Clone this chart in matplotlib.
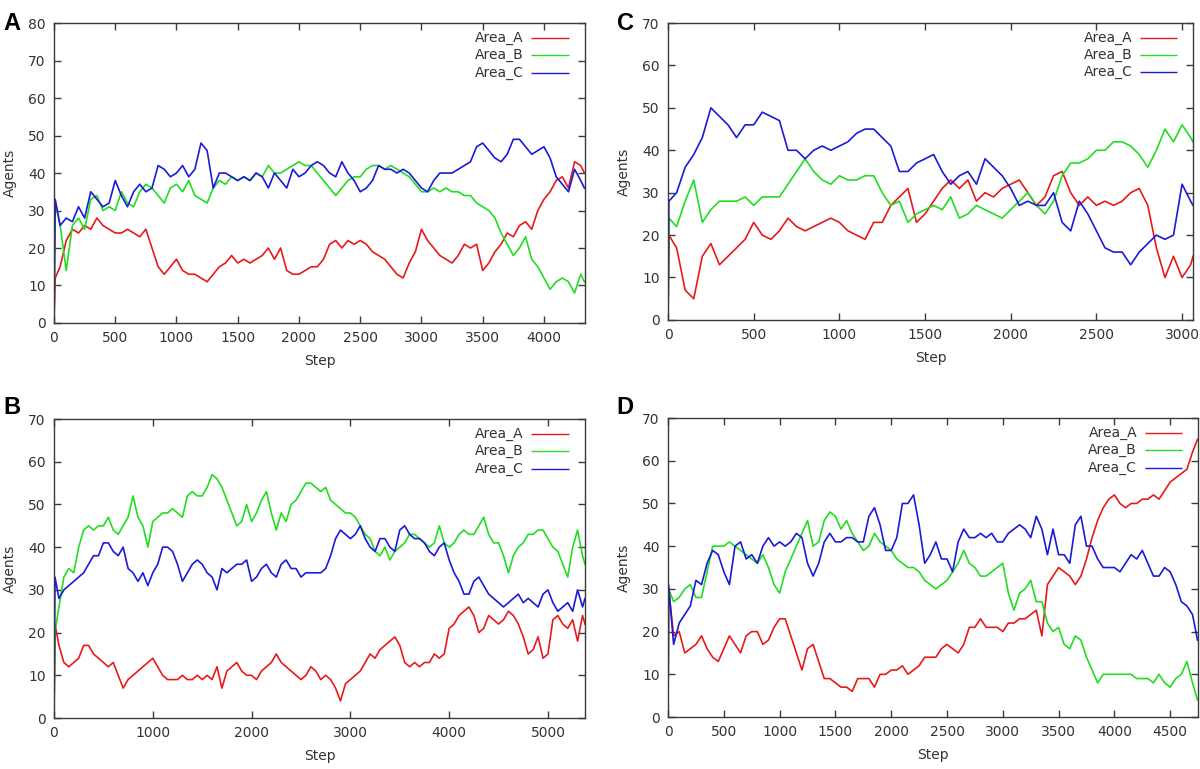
"""Agent counts per area over simulation steps, four runs (A-D).

Gnuplot-style panels: inward ticks on all four sides, legend text
right-aligned with a short line sample after it.

Output: out.png
"""
import matplotlib
matplotlib.use("Agg")
import matplotlib.pyplot as plt

RED = "#e8191a"
GREEN = "#22dd22"
BLUE = "#1a1ad8"
SPINE = "#3a3a3a"
TEXT = "#333333"

SERIES_NAMES = ["Area_A", "Area_B", "Area_C"]

# --- panel A -------------------------------------------------------------
A_STEPS = [0, 10] + list(range(50, 4301, 50)) + [4330]
A_AREA_A = [0, 12,
            15, 22, 25, 24, 26, 25, 28, 26, 25, 24,
            24, 25, 24, 23, 25, 20, 15, 13, 15, 17,
            14, 13, 13, 12, 11, 13, 15, 16, 18, 16,
            17, 16, 17, 18, 20, 17, 20, 14, 13, 13,
            14, 15, 15, 17, 21, 22, 20, 22, 21, 22,
            21, 19, 18, 17, 15, 13, 12, 16, 19, 25,
            22, 20, 18, 17, 16, 18, 21, 20, 21, 14,
            16, 19, 21, 24, 23, 26, 27, 25, 30, 33,
            35, 38, 39, 36, 43, 42,
            40]
A_AREA_B = [0, 32,
            26, 14, 26, 28, 25, 33, 34, 30, 31, 30,
            35, 32, 31, 35, 37, 36, 34, 32, 36, 37,
            35, 38, 34, 33, 32, 36, 38, 37, 39, 38,
            39, 38, 40, 39, 42, 40, 40, 41, 42, 43,
            42, 42, 40, 38, 36, 34, 36, 38, 39, 39,
            41, 42, 42, 41, 42, 41, 40, 39, 37, 35,
            35, 36, 35, 36, 35, 35, 34, 34, 32, 31,
            30, 28, 24, 21, 18, 20, 23, 17, 15, 12,
            9, 11, 12, 11, 8, 13,
            11]
A_AREA_C = [0, 33,
            26, 28, 27, 31, 28, 35, 33, 31, 32, 38,
            34, 31, 35, 37, 35, 36, 42, 41, 39, 40,
            42, 39, 41, 48, 46, 36, 40, 40, 39, 38,
            39, 38, 40, 39, 36, 40, 38, 36, 41, 39,
            40, 42, 43, 42, 40, 39, 43, 40, 38, 35,
            36, 38, 42, 41, 41, 40, 41, 40, 38, 36,
            35, 38, 40, 40, 40, 41, 42, 43, 47, 48,
            46, 44, 43, 45, 49, 49, 47, 45, 46, 47,
            44, 39, 37, 35, 41, 38,
            36]

# --- panel B -------------------------------------------------------------
B_STEPS = [0, 10] + list(range(50, 5351, 50)) + [5375]
B_AREA_A = [0, 22,
            17, 13, 12, 13, 14, 17, 17, 15, 14, 13,
            12, 13, 10, 7, 9, 10, 11, 12, 13, 14,
            12, 10, 9, 9, 9, 10, 9, 9, 10, 9,
            10, 9, 12, 7, 11, 12, 13, 11, 10, 10,
            9, 11, 12, 13, 15, 13, 12, 11, 10, 9,
            10, 12, 11, 9, 10, 9, 7, 4, 8, 9,
            10, 11, 13, 15, 14, 16, 17, 18, 19, 17,
            13, 12, 13, 12, 13, 13, 15, 14, 15, 21,
            22, 24, 25, 26, 24, 20, 21, 24, 23, 22,
            23, 25, 24, 22, 19, 15, 16, 19, 14, 15,
            23, 24, 22, 21, 23, 18, 24,
            22]
B_AREA_B = [0, 20,
            26, 33, 35, 34, 40, 44, 45, 44, 45, 45,
            47, 44, 43, 45, 47, 52, 47, 45, 40, 46,
            47, 48, 48, 49, 48, 47, 52, 53, 52, 52,
            54, 57, 56, 54, 51, 48, 45, 46, 50, 46,
            48, 51, 53, 48, 44, 48, 46, 50, 51, 53,
            55, 55, 54, 53, 54, 51, 50, 49, 48, 48,
            47, 45, 43, 42, 39, 38, 40, 37, 39, 40,
            41, 43, 43, 42, 41, 40, 41, 45, 41, 40,
            41, 43, 44, 43, 43, 45, 47, 43, 41, 41,
            38, 34, 38, 40, 41, 43, 43, 44, 44, 42,
            40, 39, 36, 33, 40, 44, 38,
            36]
B_AREA_C = [0, 33,
            28, 30, 31, 32, 33, 34, 36, 38, 38, 41,
            41, 39, 38, 40, 35, 34, 32, 34, 31, 34,
            36, 40, 40, 39, 36, 32, 34, 36, 37, 36,
            34, 33, 30, 35, 34, 35, 36, 36, 37, 32,
            33, 35, 36, 34, 33, 36, 37, 35, 35, 33,
            34, 34, 34, 34, 35, 38, 42, 44, 43, 42,
            43, 45, 42, 40, 39, 42, 42, 40, 39, 44,
            45, 43, 42, 42, 41, 39, 38, 40, 41, 37,
            34, 32, 29, 29, 32, 33, 31, 29, 28, 27,
            26, 27, 28, 29, 27, 28, 27, 26, 29, 30,
            27, 25, 26, 27, 25, 30, 26,
            28]

# --- panel C -------------------------------------------------------------
C_STEPS = [0, 5] + list(range(50, 3051, 50)) + [3064]
C_AREA_A = [0, 20,
            17, 7, 5, 15, 18, 13, 15, 17, 19, 23,
            20, 19, 21, 24, 22, 21, 22, 23, 24, 23,
            21, 20, 19, 23, 23, 27, 29, 31, 23, 25,
            28, 31, 33, 31, 33, 28, 30, 29, 31, 32,
            33, 30, 27, 29, 34, 35, 30, 27, 29, 27,
            28, 27, 28, 30, 31, 27, 17, 10, 15, 10,
            13,
            15]
C_AREA_B = [0, 24,
            22, 28, 33, 23, 26, 28, 28, 28, 29, 27,
            29, 29, 29, 32, 35, 38, 35, 33, 32, 34,
            33, 33, 34, 34, 30, 27, 28, 23, 25, 26,
            27, 26, 29, 24, 25, 27, 26, 25, 24, 26,
            28, 30, 27, 25, 28, 34, 37, 37, 38, 40,
            40, 42, 42, 41, 39, 36, 40, 45, 42, 46,
            43,
            42]
C_AREA_C = [0, 28,
            30, 36, 39, 43, 50, 48, 46, 43, 46, 46,
            49, 48, 47, 40, 40, 38, 40, 41, 40, 41,
            42, 44, 45, 45, 43, 41, 35, 35, 37, 38,
            39, 35, 32, 34, 35, 32, 38, 36, 34, 31,
            27, 28, 27, 27, 30, 23, 21, 28, 25, 21,
            17, 16, 16, 13, 16, 18, 20, 19, 20, 32,
            28,
            27]

# --- panel D -------------------------------------------------------------
D_STEPS = [0, 5] + list(range(50, 4701, 50)) + [4745]
D_AREA_A = [0, 30,
            19, 20, 15, 16, 17, 19, 16, 14, 13, 16,
            19, 17, 15, 19, 20, 20, 17, 18, 21, 23,
            23, 19, 15, 11, 16, 17, 13, 9, 9, 8,
            7, 7, 6, 9, 9, 9, 7, 10, 10, 11,
            11, 12, 10, 11, 12, 14, 14, 14, 16, 17,
            16, 15, 17, 21, 21, 23, 21, 21, 21, 20,
            22, 22, 23, 23, 24, 25, 19, 31, 33, 35,
            34, 33, 31, 33, 37, 42, 46, 49, 51, 52,
            50, 49, 50, 50, 51, 51, 52, 51, 53, 55,
            56, 57, 58, 62,
            65]
D_AREA_B = [0, 30,
            27, 28, 30, 31, 28, 28, 34, 40, 40, 40,
            41, 40, 39, 38, 37, 36, 38, 35, 31, 29,
            34, 37, 40, 43, 46, 40, 41, 46, 48, 47,
            44, 46, 43, 41, 39, 40, 43, 41, 40, 39,
            37, 36, 35, 35, 34, 32, 31, 30, 31, 32,
            34, 36, 39, 36, 35, 33, 33, 34, 35, 36,
            29, 25, 29, 30, 32, 27, 27, 22, 20, 21,
            17, 16, 19, 18, 14, 11, 8, 10, 10, 10,
            10, 10, 10, 9, 9, 9, 8, 10, 8, 7,
            9, 10, 13, 8,
            4]
D_AREA_C = [0, 31,
            17, 22, 24, 26, 32, 31, 36, 39, 38, 34,
            31, 40, 41, 37, 38, 36, 40, 42, 40, 41,
            40, 41, 43, 42, 36, 33, 36, 41, 43, 41,
            41, 42, 42, 41, 41, 47, 49, 45, 39, 39,
            42, 50, 50, 52, 45, 36, 38, 41, 37, 37,
            34, 41, 44, 42, 42, 43, 42, 43, 41, 41,
            43, 44, 45, 44, 42, 47, 44, 38, 44, 38,
            38, 36, 45, 47, 40, 40, 37, 35, 35, 35,
            34, 36, 38, 37, 39, 36, 33, 33, 35, 34,
            31, 27, 26, 24,
            18]


def _legend(ax):
    """Gnuplot-style key: label right-aligned, then a short line sample."""
    for k, (name, col) in enumerate(zip(SERIES_NAMES, [RED, GREEN, BLUE])):
        y = 0.95 - k * 0.058
        ax.text(0.885, y, name, transform=ax.transAxes, ha="right",
                va="center", fontsize=10, color=TEXT)
        ax.plot([0.899, 0.97], [y, y], transform=ax.transAxes, color=col,
                lw=1.0, solid_capstyle="butt")


def _draw_panel(ax, steps, series, xmax, ymax, xticks):
    for vals, col in zip(series, [RED, GREEN, BLUE]):
        ax.plot(steps, vals, color=col, lw=1.2)
    ax.set_xlim(0, xmax)
    ax.set_ylim(0, ymax)
    ax.set_xticks(xticks)
    ax.set_yticks(range(0, ymax + 1, 10))
    ax.tick_params(direction="in", top=True, right=True, length=5,
                   width=1, color=SPINE, labelcolor=TEXT, labelsize=10,
                   pad=6)
    for sp in ax.spines.values():
        sp.set_color(SPINE)
        sp.set_linewidth(1.0)
    ax.set_xlabel("Step", fontsize=10, color=TEXT, labelpad=6)
    ax.set_ylabel("Agents", fontsize=10, color=TEXT, labelpad=8)
    _legend(ax)


def main():
    fig = plt.figure(figsize=(12, 7.69), dpi=100)

    ax_a = fig.add_axes([0.045, 0.580, 0.4425, 0.390])
    _draw_panel(ax_a, A_STEPS, [A_AREA_A, A_AREA_B, A_AREA_C], 4335, 80,
                range(0, 4001, 500))

    ax_c = fig.add_axes([0.5567, 0.584, 0.4375, 0.386])
    _draw_panel(ax_c, C_STEPS, [C_AREA_A, C_AREA_B, C_AREA_C], 3064, 70,
                range(0, 3001, 500))

    ax_b = fig.add_axes([0.045, 0.0663, 0.4425, 0.3888])
    _draw_panel(ax_b, B_STEPS, [B_AREA_A, B_AREA_B, B_AREA_C], 5375, 70,
                range(0, 5001, 1000))

    ax_d = fig.add_axes([0.5567, 0.0676, 0.4417, 0.3888])
    _draw_panel(ax_d, D_STEPS, [D_AREA_A, D_AREA_B, D_AREA_C], 4750, 70,
                range(0, 4501, 500))

    for letter, x, y in [("A", 0.003, 0.985), ("C", 0.514, 0.985),
                         ("B", 0.003, 0.485), ("D", 0.514, 0.485)]:
        fig.text(x, y, letter, fontsize=17, weight="bold",
                 family="Liberation Sans", ha="left", va="top")

    fig.savefig("out.png", dpi=100)


if __name__ == "__main__":
    main()
